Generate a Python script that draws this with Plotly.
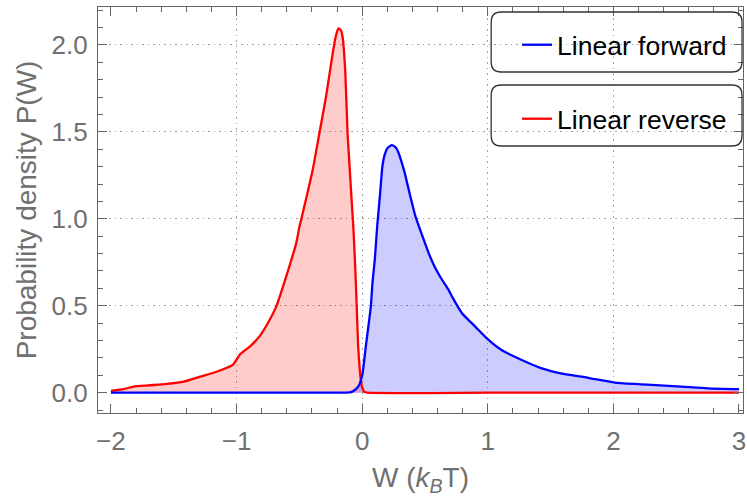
import plotly.graph_objects as go

# Forward (blue) work distribution
w_forward = [-2.0, -1.5, -1.0, -0.5, -0.2, -0.1, -0.077, -0.05, -0.024, 0.003, 0.029, 0.069,
             0.082, 0.1, 0.12, 0.14, 0.161, 0.18, 0.2, 0.235, 0.26, 0.28, 0.333, 0.38, 0.425,
             0.48, 0.531, 0.58, 0.637, 0.689, 0.716, 0.795, 0.9, 1.006, 1.11, 1.27, 1.43,
             1.59, 1.75, 1.85, 2.01, 2.17, 2.27, 2.54, 2.75, 3.0]
p_forward = [0.0, 0.0, 0.0, 0.0, 0.0, 0.002, 0.006, 0.02, 0.044, 0.11, 0.265, 0.495,
             0.63, 0.76, 0.96, 1.12, 1.30, 1.37, 1.405, 1.424, 1.415, 1.396, 1.28, 1.14, 1.012,
             0.9, 0.80, 0.72, 0.648, 0.59, 0.552, 0.457, 0.38, 0.303, 0.245, 0.188, 0.14,
             0.110, 0.092, 0.078, 0.058, 0.05, 0.046, 0.035, 0.025, 0.02]

# Reverse (red) work distribution
w_reverse = [-2.0, -1.9, -1.82, -1.7, -1.555, -1.42, -1.29, -1.16, -1.03, -1.0, -0.97, -0.89,
             -0.816, -0.763, -0.684, -0.605, -0.525, -0.499, -0.486, -0.394, -0.341, -0.288,
             -0.235, -0.21, -0.188, -0.17, -0.156, -0.135, -0.116, -0.1, -0.085, -0.07,
             -0.055, -0.045, -0.032, -0.02, -0.01, 0.0, 0.016, 0.04, 1.0, 2.0, 3.0]
p_reverse = [0.01, 0.02, 0.035, 0.042, 0.05, 0.063, 0.092, 0.12, 0.16, 0.19, 0.222, 0.268,
             0.325, 0.385, 0.495, 0.667, 0.86, 0.955, 0.993, 1.28, 1.49, 1.70,
             1.95, 2.05, 2.095, 2.085, 2.047, 1.856, 1.49, 1.3, 1.12, 0.95,
             0.72, 0.53, 0.27, 0.14, 0.07, 0.03, 0.006, 0.0, 0.0, 0.0, 0.0]

x_ticks = [-2, -1, 0, 1, 2, 3]
x_tick_text = ["\u22122", "\u22121", "0", "1", "2", "3"]
x_grid = [-1, 0, 1, 2]
y_ticks = [0.0, 0.5, 1.0, 1.5, 2.0]
y_tick_text = ["0.0", "0.5", "1.0", "1.5", "2.0"]
y_grid = [0.5, 1.0, 1.5, 2.0]

FONT = "Arial, Liberation Sans, sans-serif"
LABEL = "#707070"
FRAME = "#666666"
X_RANGE = [-2.103, 3.032]
Y_RANGE = [-0.117, 2.218]
SMOOTH = 0.5

fig = go.Figure()
# fills (no legend)
fig.add_trace(go.Scatter(
    x=w_reverse, y=p_reverse, mode="lines", line=dict(width=0, shape="spline", smoothing=SMOOTH),
    fill="tozeroy", fillcolor="rgba(255,0,0,0.2)", showlegend=False, hoverinfo="skip"))
fig.add_trace(go.Scatter(
    x=w_forward, y=p_forward, mode="lines", line=dict(width=0, shape="spline", smoothing=SMOOTH),
    fill="tozeroy", fillcolor="rgba(0,0,255,0.2)", showlegend=False, hoverinfo="skip"))
# lines (with legend)
fig.add_trace(go.Scatter(
    x=w_reverse, y=p_reverse, mode="lines", name="Linear reverse",
    line=dict(color="#ff0000", width=2.3, shape="spline", smoothing=SMOOTH), legend="legend2"))
fig.add_trace(go.Scatter(
    x=w_forward, y=p_forward, mode="lines", name="Linear forward",
    line=dict(color="#0000ff", width=2.3, shape="spline", smoothing=SMOOTH), legend="legend"))

# rounded legend frames (paper coords)
W_PLOT, H_PLOT = 648.0, 406.0
def rbox(x0, x1, y0, y1, r=10):
    rx, ry = r / W_PLOT, r / H_PLOT
    return (f"M{x0+rx},{y1} L{x1-rx},{y1} Q{x1},{y1} {x1},{y1-ry} L{x1},{y0+ry} "
            f"Q{x1},{y0} {x1-rx},{y0} L{x0+rx},{y0} Q{x0},{y0} {x0},{y0+ry} "
            f"L{x0},{y1-ry} Q{x0},{y1} {x0+rx},{y1} Z")

shapes = []
for (top, bot) in [(12, 72), (85, 146)]:
    x0 = (493 - 98) / W_PLOT
    x1 = (745 - 98) / W_PLOT
    y1 = (413 - top) / H_PLOT
    y0 = (413 - bot) / H_PLOT
    shapes.append(dict(type="path", xref="paper", yref="paper", path=rbox(x0, x1, y0, y1),
                       line=dict(color="#333333", width=1.3), fillcolor="rgba(0,0,0,0)",
                       layer="above"))

axis_common = dict(showline=True, linecolor=FRAME, linewidth=1.2, mirror="allticks",
                   ticks="inside", tickcolor=FRAME, tickwidth=1, zeroline=False,
                   showgrid=False, ticklabeloverflow="allow",
                   tickfont=dict(family=FONT, size=26, color=LABEL))

fig.update_layout(
    width=747, height=502,
    margin=dict(l=98, r=1, t=7, b=89),
    paper_bgcolor="white", plot_bgcolor="white",
    font=dict(family=FONT, size=26, color=LABEL),
    shapes=shapes,
    xaxis=dict(range=X_RANGE, tickvals=x_ticks, ticktext=x_tick_text,
               ticklen=9, minor=dict(dtick=0.2, ticklen=5, tickcolor=FRAME, ticks="inside", showgrid=False),
               title=dict(text="W (<i>k<sub>B</sub></i>T)", font=dict(family=FONT, size=28, color=LABEL), standoff=12),
               ticklabelstandoff=5, **axis_common),
    yaxis=dict(range=Y_RANGE, tickvals=y_ticks, ticktext=y_tick_text,
               ticklen=9, minor=dict(dtick=0.1, ticklen=5, tickcolor=FRAME, ticks="inside", showgrid=False),
               title=dict(text="Probability density P(W)", font=dict(family=FONT, size=28, color=LABEL), standoff=6),
               ticklabelstandoff=4, **axis_common),
    xaxis2=dict(overlaying="x", range=X_RANGE, tickvals=x_grid, showgrid=True, gridcolor="#a0a0a0",
                gridwidth=1, griddash="1.5px,4px", showticklabels=False, ticks="", showline=False,
                zeroline=False, side="bottom"),
    yaxis2=dict(overlaying="y", range=Y_RANGE, tickvals=y_grid, showgrid=True, gridcolor="#a0a0a0",
                gridwidth=1, griddash="1.5px,4px", showticklabels=False, ticks="", showline=False,
                zeroline=False, side="left"),
    legend=dict(x=(519 - 98) / W_PLOT, y=(413 - 45) / H_PLOT, xanchor="left", yanchor="middle",
                bgcolor="rgba(0,0,0,0)", borderwidth=0,
                font=dict(family=FONT, size=26.5, color="#000000")),
    legend2=dict(x=(519 - 98) / W_PLOT, y=(413 - 119) / H_PLOT, xanchor="left", yanchor="middle",
                 bgcolor="rgba(0,0,0,0)", borderwidth=0,
                 font=dict(family=FONT, size=26.5, color="#000000")),
)

# invisible trace to activate the grid-only overlay axes
fig.add_trace(go.Scatter(x=[X_RANGE[0]], y=[Y_RANGE[0]], xaxis="x2", yaxis="y2", mode="markers",
                         marker=dict(opacity=0), showlegend=False, hoverinfo="skip"))

fig.write_html("out.html")
